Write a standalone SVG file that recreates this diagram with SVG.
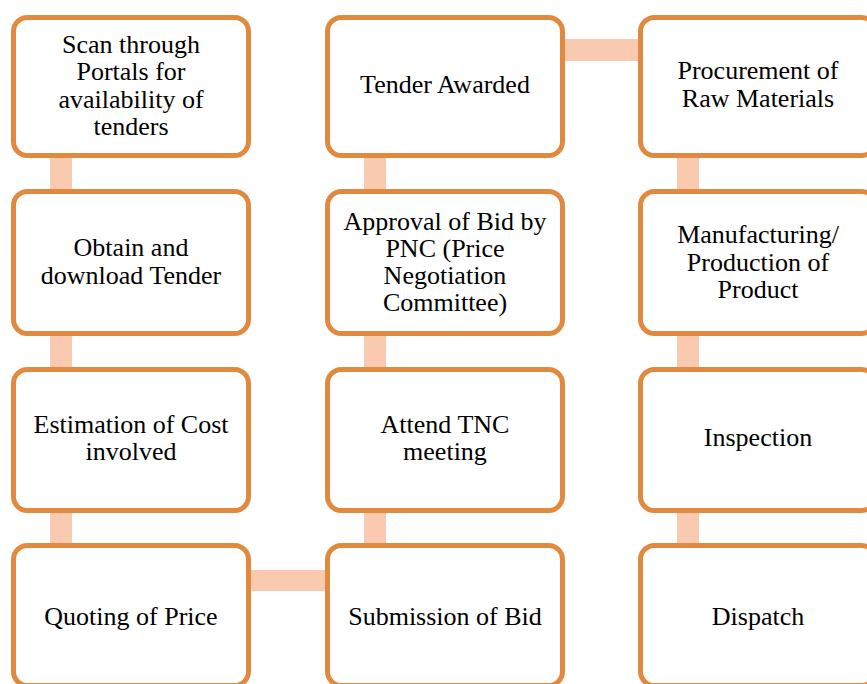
<svg xmlns="http://www.w3.org/2000/svg" width="867" height="684" viewBox="0 0 867 684">
<style>
.box{fill:#FFFFFF;stroke:#E1893F;stroke-width:5}
.bar{fill:#F9CAB0}
text{font-family:"Liberation Serif","Times New Roman",serif;font-size:26px;fill:#000;text-anchor:middle}
</style>
<rect width="867" height="684" fill="#FFFFFF"/>
<g id="connectors">
<rect class="bar" x="50" y="150" width="22" height="48"/>
<rect class="bar" x="50" y="328" width="22" height="46"/>
<rect class="bar" x="50" y="506" width="22" height="44"/>
<rect class="bar" x="244" y="570" width="88" height="21"/>
<rect class="bar" x="364" y="506" width="22" height="44"/>
<rect class="bar" x="364" y="328" width="22" height="46"/>
<rect class="bar" x="364" y="150" width="22" height="48"/>
<rect class="bar" x="558" y="39" width="88" height="22"/>
<rect class="bar" x="677" y="150" width="22" height="48"/>
<rect class="bar" x="677" y="328" width="22" height="46"/>
<rect class="bar" x="677" y="506" width="22" height="44"/>
</g>
<g id="n1"><rect class="box" x="13.5" y="17.5" width="235" height="138" rx="14"/>
<text x="131" y="53">Scan through</text><text x="131" y="80">Portals for</text><text x="131" y="108">availability of</text><text x="131" y="135">tenders</text></g>
<g id="n2"><rect class="box" x="13.5" y="191.5" width="235" height="142" rx="14"/>
<text x="131" y="256">Obtain and</text><text x="131" y="284">download Tender</text></g>
<g id="n3"><rect class="box" x="13.5" y="369.5" width="235" height="141" rx="14"/>
<text x="131" y="433">Estimation of Cost</text><text x="131" y="460">involved</text></g>
<g id="n4"><rect class="box" x="13.5" y="545.5" width="235" height="140" rx="14"/>
<text x="131" y="625">Quoting of Price</text></g>
<g id="n5"><rect class="box" x="327.5" y="545.5" width="235" height="140" rx="14"/>
<text x="445" y="625">Submission of Bid</text></g>
<g id="n6"><rect class="box" x="327.5" y="369.5" width="235" height="141" rx="14"/>
<text x="445" y="433">Attend TNC</text><text x="445" y="460">meeting</text></g>
<g id="n7"><rect class="box" x="327.5" y="191.5" width="235" height="142" rx="14"/>
<text x="445" y="230">Approval of Bid by</text><text x="445" y="257">PNC (Price</text><text x="445" y="284">Negotiation</text><text x="445" y="311">Committee)</text></g>
<g id="n8"><rect class="box" x="327.5" y="17.5" width="235" height="138" rx="14"/>
<text x="445" y="93">Tender Awarded</text></g>
<g id="n9"><rect class="box" x="640.5" y="17.5" width="235" height="138" rx="14"/>
<text x="758" y="79">Procurement of</text><text x="758" y="107">Raw Materials</text></g>
<g id="n10"><rect class="box" x="640.5" y="191.5" width="235" height="142" rx="14"/>
<text x="758" y="243">Manufacturing/</text><text x="758" y="271">Production of</text><text x="758" y="298">Product</text></g>
<g id="n11"><rect class="box" x="640.5" y="369.5" width="235" height="141" rx="14"/>
<text x="758" y="446">Inspection</text></g>
<g id="n12"><rect class="box" x="640.5" y="545.5" width="235" height="140" rx="14"/>
<text x="758" y="625">Dispatch</text></g>
</svg>
